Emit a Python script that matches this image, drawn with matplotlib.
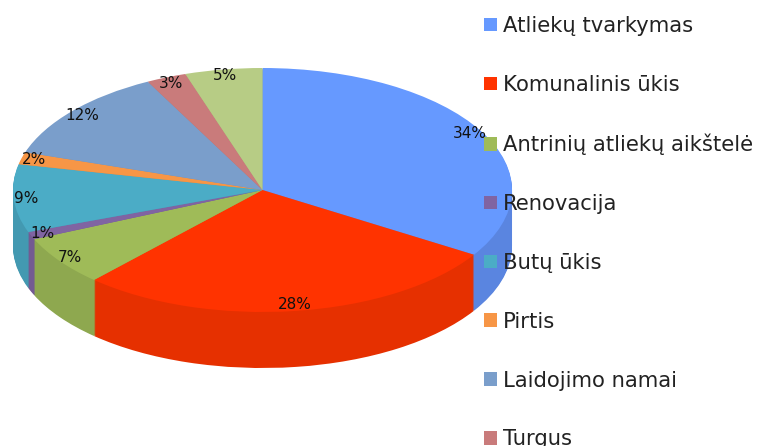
import matplotlib
matplotlib.use('Agg')
import matplotlib.pyplot as plt

plt.rcParams['font.family'] = ['DejaVu Sans']

names = ['Atliekų tvarkymas', 'Komunalinis ūkis', 'Antrinių atliekų aikštelė', 'Renovacija',
         'Butų ūkis', 'Pirtis', 'Laidojimo namai', 'Turgus']
# last slice has no readable legend entry, it falls off the bottom of the picture
shares = [33.9, 27.9, 6.6, 1.0, 9.0, 1.6, 12.4, 2.6, 5.0]
top_colors = ['#6699FF', '#FF3300', '#9FBB58', '#8064A2', '#4BACC6', '#F79646', '#7A9ECB', '#C97B7B', '#B7CC85']
side_colors = ['#5A85E0', '#E63000', '#8EA84F', '#735A92', '#4399B1', '#DE873F', '#6E8EB6', '#B56F6F', '#A5B878']

W, H = 760, 446
fig = plt.figure(figsize=(W / 100, H / 100), dpi=100)
ax = fig.add_axes([13 / W, (H - 312) / H, 499 / W, 244 / H])

# side of the pie: same wedges stacked downwards in the darker colours
depth = 56 / 122
layers = 56
for i in range(layers, 0, -1):
    ax.pie(shares, colors=side_colors, startangle=90, counterclock=False, radius=1,
           center=(0, -depth * i / layers), wedgeprops={'clip_on': False, 'linewidth': 0})

wedges, texts, pcts = ax.pie(shares, colors=top_colors, startangle=90, counterclock=False, radius=1,
                             autopct='%.0f%%', pctdistance=0.95,
                             wedgeprops={'clip_on': False, 'linewidth': 0},
                             textprops={'fontsize': 11, 'color': '#111111'})
ax.set_aspect('auto')
ax.set_xlim(-1, 1)
ax.set_ylim(-1, 1)

leg = fig.legend(wedges[:8], names, loc='upper left', bbox_to_anchor=(484 / W, 1 - 16 / H),
                 frameon=False, fontsize=15.2, labelspacing=1.84, handlelength=0.62, handleheight=0.62,
                 handletextpad=0.28, labelcolor='#222222', borderaxespad=0, borderpad=0)

fig.savefig('out.png', dpi=100)
